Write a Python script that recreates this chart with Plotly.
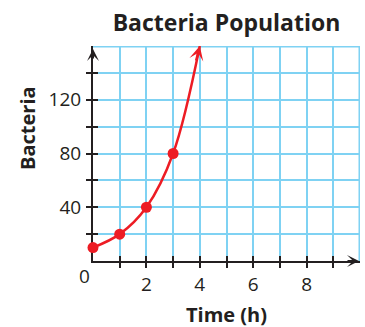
import plotly.graph_objects as go

# Bacteria population doubling each hour
time_h = [0, 1, 2, 3, 4]
bacteria = [10, 20, 40, 80, 160]
marked = 4  # measured points carry a dot; the last point is where the curve leaves

x_ticks = [1, 2, 3, 4, 5, 6, 7, 8, 9]
x_ticktext = ["", "2", "", "4", "", "6", "", "8", ""]
y_ticks = [20, 40, 60, 80, 100, 120, 140]
y_ticktext = ["", "40", "", "80", "", "120", ""]
x_range = [0, 10]
y_range = [0, 160]

INK = "#231f20"
GRID = "#7fd2f3"
RED = "#ed1c24"
FONT = "Open Sans"

fig = go.Figure()

fig.add_trace(go.Scatter(
    x=time_h, y=bacteria, mode="lines",
    line=dict(color=RED, width=2.5, shape="spline"),
    cliponaxis=False, hoverinfo="skip", showlegend=False,
))
fig.add_trace(go.Scatter(
    x=time_h[:marked], y=bacteria[:marked], mode="markers",
    marker=dict(color=RED, size=11),
    cliponaxis=False, showlegend=False,
))

axis_common = dict(ticks="outside", ticklen=5, tickwidth=2, tickcolor=INK,
                   showline=True, linecolor=INK, linewidth=2,
                   gridcolor=GRID, gridwidth=1.6, zeroline=False,
                   layer="below traces", automargin=False,
                   tickfont=dict(family=FONT, size=19, color=INK))

fig.update_layout(
    width=365, height=327,
    margin=dict(l=93, r=5, t=46, b=66),
    paper_bgcolor="white", plot_bgcolor="white",
    title=dict(text="<b>Bacteria Population</b>", x=0.5, xref="paper",
               y=1 - 23 / 327, yanchor="middle", xanchor="center",
               font=dict(family=FONT, size=23, color=INK)),
    xaxis=dict(range=x_range, tickvals=x_ticks, ticktext=x_ticktext,
               ticklabelstandoff=0, **axis_common),
    yaxis=dict(range=y_range, tickvals=y_ticks, ticktext=y_ticktext,
               ticklabelstandoff=1, **axis_common),
    # second pair of axes gives the inward half of each tick mark
    xaxis2=dict(range=x_range, tickvals=x_ticks, overlaying="x", anchor="y",
                side="bottom", ticks="inside", ticklen=5, tickwidth=2,
                tickcolor=INK, showticklabels=False, showgrid=False,
                zeroline=False, layer="below traces", automargin=False),
    yaxis2=dict(range=y_range, tickvals=y_ticks, overlaying="y", anchor="x",
                side="left", ticks="inside", ticklen=5, tickwidth=2,
                tickcolor=INK, showticklabels=False, showgrid=False,
                zeroline=False, layer="below traces", automargin=False),
)
fig.add_trace(go.Scatter(x=[None], y=[None], xaxis="x2", yaxis="y2",
                         showlegend=False, hoverinfo="skip"))

# heavier frame along the top and right of the grid
fig.add_shape(type="line", x0=x_range[0], x1=x_range[1], y0=y_range[1], y1=y_range[1],
              line=dict(color=GRID, width=3), layer="below")
fig.add_shape(type="line", x0=x_range[1], x1=x_range[1], y0=y_range[0], y1=y_range[1],
              line=dict(color=GRID, width=3), layer="below")

# arrowheads on the axes and at the end of the growth curve
fig.add_annotation(x=x_range[1], y=y_range[0], ax=-14, ay=0, text="",
                   showarrow=True, arrowhead=3, arrowsize=1, arrowwidth=2,
                   arrowcolor=INK, standoff=1)
fig.add_annotation(x=x_range[0], y=y_range[1], ax=0, ay=14, text="",
                   showarrow=True, arrowhead=3, arrowsize=1, arrowwidth=2,
                   arrowcolor=INK, standoff=3)
fig.add_annotation(x=time_h[-1], y=bacteria[-1], ax=-4, ay=16, text="",
                   showarrow=True, arrowhead=3, arrowsize=0.95, arrowwidth=2.5,
                   arrowcolor=RED, standoff=0)

# origin label and axis titles
fig.add_annotation(x=x_range[0], y=y_range[0], text="0", showarrow=False,
                   xanchor="center", yanchor="middle", xshift=-9, yshift=-15,
                   font=dict(family=FONT, size=19, color=INK))
fig.add_annotation(xref="paper", yref="paper", x=0.5, y=0,
                   text="<b>Time (h)</b>", showarrow=False,
                   xanchor="center", yanchor="middle", yshift=-53,
                   font=dict(family=FONT, size=20, color=INK))
fig.add_annotation(xref="paper", yref="paper", x=0, y=(261 - 128) / 215,
                   text="<b>Bacteria</b>", textangle=-90, showarrow=False,
                   xanchor="center", yanchor="middle", xshift=-66,
                   font=dict(family=FONT, size=20, color=INK))

fig.write_html("out.html")
